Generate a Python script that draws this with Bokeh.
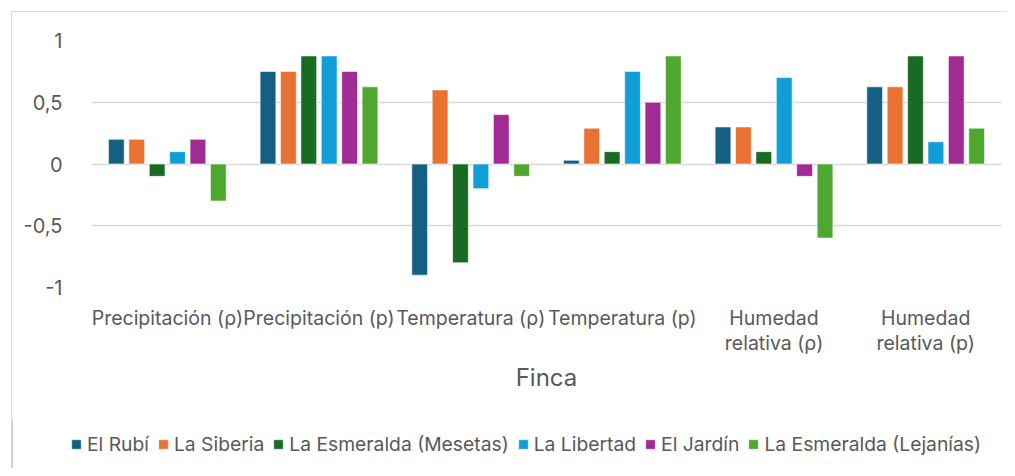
from bokeh.plotting import figure
from bokeh.layouts import column, row
from bokeh.models import (FactorRange, Range1d, FixedTicker, Legend, LegendItem)
from bokeh.transform import dodge
from bokeh.embed import file_html
from bokeh.resources import INLINE

categories = ["Precipitación (ρ)", "Precipitación (p)", "Temperatura (ρ)",
              "Temperatura (p)", "Humedad\nrelativa (ρ)", "Humedad\nrelativa (p)"]
fincas = ["El Rubí", "La Siberia", "La Esmeralda (Mesetas)", "La Libertad",
          "El Jardín", "La Esmeralda (Lejanías)"]
el_rubi = [0.2, 0.75, -0.9, 0.03, 0.3, 0.625]
la_siberia = [0.2, 0.75, 0.6, 0.29, 0.3, 0.625]
esmeralda_mesetas = [-0.1, 0.875, -0.8, 0.1, 0.1, 0.875]
la_libertad = [0.1, 0.875, -0.2, 0.75, 0.7, 0.18]
el_jardin = [0.2, 0.75, 0.4, 0.5, -0.1, 0.875]
esmeralda_lejanias = [-0.3, 0.625, -0.1, 0.875, -0.6, 0.29]
series = [el_rubi, la_siberia, esmeralda_mesetas, la_libertad, el_jardin, esmeralda_lejanias]
colors = ["#156082", "#E97132", "#196B24", "#0F9ED5", "#A02B93", "#4EA72E"]
y_ticks = [-1, -0.5, 0, 0.5, 1]
y_tick_labels = ["-1", "-0,5", "0", "0,5", "1"]

FONT = "Inter"
GREY = "#595959"

p = figure(x_range=FactorRange(*categories, range_padding=0), y_range=Range1d(-1, 1),
           width=995, height=408, output_backend="svg", toolbar_location=None,
           min_border_left=79, min_border_right=6, min_border_top=28, min_border_bottom=133)
p.x_range.factor_padding = 0
p.outline_line_color = None
p.background_fill_color = "white"
p.border_fill_color = "white"

pitch = 0.1345
bw = 0.104
for i, (name, vals, col) in enumerate(zip(fincas, series, colors)):
    src = {"cat": categories, "val": vals}
    p.vbar(x=dodge("cat", (i - 2.5) * pitch, range=p.x_range), top="val", bottom=0,
           width=bw, source=src, fill_color=col, line_color="white",
           line_alpha=0.6, line_width=1)

p.xgrid.visible = False
p.ygrid.grid_line_color = "#d9d9d9"
p.ygrid.grid_line_width = 1.5
p.yaxis.ticker = FixedTicker(ticks=y_ticks)
p.yaxis.major_label_overrides = {t: l for t, l in zip(y_ticks, y_tick_labels)}
for ax in (p.xaxis[0], p.yaxis[0]):
    ax.axis_line_color = None
    ax.major_tick_line_color = None
    ax.minor_tick_line_color = None
    ax.major_label_text_font = FONT
    ax.major_label_text_color = GREY
p.yaxis.major_label_text_font_size = "20px"
p.xaxis.major_label_text_font_size = "19.5px"
p.yaxis.major_label_standoff = 23
p.xaxis.major_label_standoff = 12
p.xaxis.major_label_text_line_height = 1.05
p.xaxis.axis_label = "Finca"
p.xaxis.axis_label_text_font = FONT
p.xaxis.axis_label_text_font_style = "normal"
p.xaxis.axis_label_text_color = GREY
p.xaxis.axis_label_text_font_size = "24px"
p.xaxis.axis_label_standoff = 5

# legend strip
lg = figure(width=995, height=48, output_backend="svg", toolbar_location=None,
            x_range=Range1d(0, 1), y_range=Range1d(0, 1),
            min_border_left=0, min_border_right=0, min_border_top=0, min_border_bottom=0)
lg.axis.visible = False
lg.grid.visible = False
lg.outline_line_color = None
items = []
for name, col in zip(fincas, colors):
    r = lg.vbar(x=[-100], top=[1], width=1, fill_color=col, line_color="white", line_alpha=0.6)
    items.append(LegendItem(label=name, renderers=[r]))
legend = Legend(items=items, orientation="horizontal", location=(58, 12),
                glyph_width=12, glyph_height=12, label_standoff=5, spacing=8,
                padding=0, margin=0, border_line_color=None, background_fill_alpha=0,
                label_text_font=FONT, label_text_color=GREY, label_text_font_size="19.3px",
                label_height=12)
lg.add_layout(legend)

layout = column(p, row(lg, spacing=0), spacing=0)
layout.styles = {"margin-left": "11px", "margin-top": "11px",
                 "border-left": "1px solid #d9d9d9", "border-top": "1px solid #d9d9d9"}
open("out.html", "w").write(file_html(layout, INLINE))
